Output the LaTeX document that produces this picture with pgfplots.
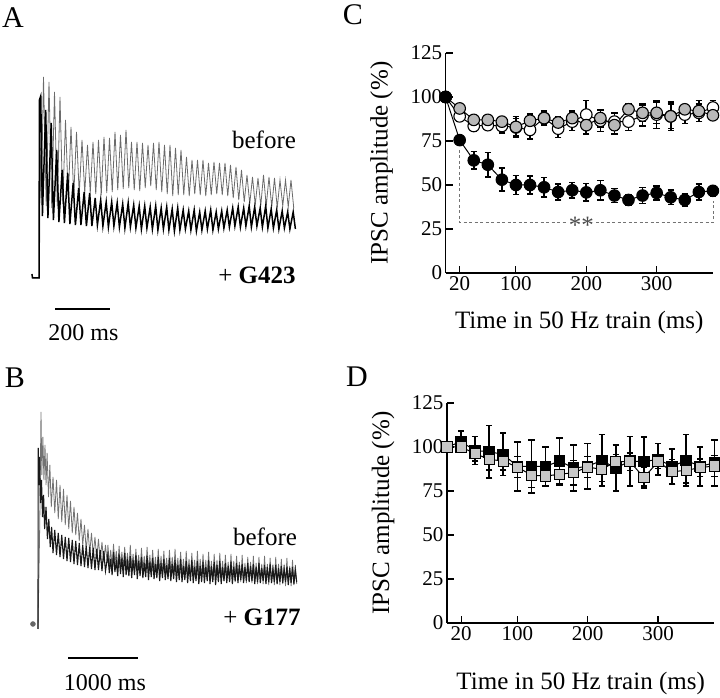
\documentclass[border=0pt]{standalone}
\usepackage{pgfplots}
\pgfplotsset{compat=1.18}
\usepackage{pgfplotstable}
\usepackage{fontspec}
\setmainfont{Liberation Serif}
\newcommand\ticksize{\fontsize{21}{24}\selectfont}
\newcommand\labsize{\fontsize{25}{30}\selectfont}
\newcommand\letsize{\fontsize{30}{34}\selectfont}

\pgfplotstableread{
x y e
0 100 0
20 75.5 2
40 64 5
60 61.5 7
80 53 6.5
100 50 5.5
120 50 5
140 48.7 5.5
160 46 4.5
180 47 4.5
200 45.8 5
220 47 5.5
240 44 4
260 41.5 3
280 44 4.5
300 45.5 4
320 43 4
340 41.5 3.5
360 46 4.5
380 46.7 3
}\Cblack
\pgfplotstableread{
x y e
0 100 0
20 89 3
40 83.5 3
60 84 3
80 83.5 4
100 82.7 5
120 81.3 5
140 88 4
160 82 5
180 86 5
200 90 8
220 86.5 6
240 86 5
260 86 5
280 89.5 6
300 90 8
320 89 8
340 90 5
360 91 5
380 94 4
}\Copen
\pgfplotstableread{
x y e
0 100 0
20 93.5 2
40 87 2
60 87 2
80 86 3
100 83 6
120 86.5 4
140 88 3
160 85.5 3
180 88 4
200 84 5
220 88 5
240 84 5
260 93 3
280 91 5
300 91 6
320 89 7
340 93 2
360 92 6
380 89.6 3
}\Cgray
\pgfplotstableread{
x y e
0 100 0
20 103 6
40 98 8
60 97.3 15
80 95.8 12
100 89 14
120 89 15
140 89 11
160 92 13
180 88 13
200 89 13
220 92.4 14.6
240 88 13
260 92 14
280 91.7 14
300 93 9
320 89 10
340 92.4 14.6
360 89 11
380 91 13
}\Dblack
\pgfplotstableread{
x y e
0 100 0
20 100 3
40 96.2 4
60 93 6
80 92 5
100 88.6 6
120 84 7
140 83.5 6
160 84.5 6
180 85.4 7
200 88.6 6
220 87.3 7
240 91.7 4
260 91.7 5
280 82.6 6
300 91.7 4
320 86 7
340 86.7 7
360 88.3 5
380 89.2 6
}\Dgray

\pgfplotsset{
 panel/.style={
  scale only axis, width=267.3pt, height=220pt,
  xmin=0, xmax=380, ymin=0, ymax=125,
  axis lines=left, axis line style={-, line width=1.1pt},
  tick align=inside, major tick length=7pt, tick style={line width=1.1pt, black},
  xtick={20,100,200,300}, ytick={0,25,50,75,100,125},
  tick label style={font=\ticksize},
  /pgf/number format/assume math mode=true,
  xlabel={Time in 50 Hz train (ms)}, ylabel={IPSC amplitude (\%)},
  label style={font=\labsize},
  ylabel style={at={([xshift=-64pt]axis description cs:0,0.5)}, anchor=center, rotate=0},
  clip=false,
 },
 ebar/.style={error bars/.cd, y dir=both, y explicit,
   error bar style={line width=1.6pt, black},
   error mark options={rotate=90, mark size=3.2pt, line width=1.6pt, black}},
 trace/.style={scale only axis, hide axis, clip=false},
}

\begin{document}
\begin{tikzpicture}
\useasboundingbox (0,0) rectangle (720pt,698pt);

% ---------- Panel A ----------
\begin{axis}[trace, at={(32.5pt,410pt)}, anchor=south west,
  width=269.5pt, height=220pt, xmin=-20, xmax=960, ymin=-10, ymax=210]
\addplot[black!58, line width=0.8pt] coordinates {
(-20,0) (5,0) (8,130) (12,80)
(20,201) (30,72) (40,196) (50,70) (60,186) (70,72) (80,181) (90,74)
(100,158) (110,80) (120,151) (130,82) (140,146) (150,84) (160,138) (170,85)
(180,133) (190,85) (200,136) (210,84) (220,138) (230,83) (240,141) (250,85)
(260,140) (270,86) (280,146) (290,88) (300,143) (310,89) (320,148) (330,90)
(340,136) (350,88) (360,136) (370,87) (380,135) (390,90) (400,133) (410,92)
(420,135) (430,88) (440,136) (450,86) (460,133) (470,84) (480,133) (490,82)
(500,130) (510,83) (520,128) (530,83) (540,121) (550,82) (560,118) (570,84)
(580,118) (590,83) (600,118) (610,82) (620,115) (630,83) (640,116) (650,84)
(660,115) (670,83) (680,115) (690,82) (700,113) (710,80) (720,111) (730,78)
(740,108) (750,76) (760,103) (770,74) (780,101) (790,73) (800,100) (810,72)
(820,103) (830,72) (840,101) (850,71) (860,100) (870,70) (880,98) (890,72)
(900,98) (910,71) (920,98) (930,70)
};
\addplot[black, line width=1.5pt] coordinates {
(-22,4) (-20,0) (4,0) (5,178) (10,182) (16,62)
(28,168) (36,60) (48,155) (56,58) (68,128) (76,56) (88,108) (96,55)
(108,105) (116,54) (128,95) (136,53) (148,90) (156,53) (168,86) (176,52)
(188,85) (196,52) (208,80) (216,53) (228,78) (236,52) (248,76) (256,51)
(268,76) (276,52) (288,75) (296,51) (308,74) (316,50) (328,75) (336,51)
(348,73) (356,50) (368,72) (376,49) (388,72) (396,50) (408,71) (416,49)
(428,72) (436,48) (448,70) (456,49) (468,71) (476,48) (488,69) (496,47)
(508,70) (516,48) (528,68) (536,49) (548,67) (556,48) (568,68) (576,47)
(588,66) (596,48) (608,67) (616,49) (628,68) (636,48) (648,66) (656,49)
(668,67) (676,50) (688,68) (696,51) (708,70) (716,52) (728,71) (736,51)
(748,70) (756,52) (768,72) (776,51) (788,71) (796,52) (808,70) (816,51)
(828,72) (836,50) (848,69) (856,50) (868,68) (876,49) (888,67) (896,50)
(908,66) (916,49) (928,66) (936,49)
};
\end{axis}

% ---------- Panel B ----------
\begin{axis}[trace, at={(31pt,63pt)}, anchor=south west,
  width=272.7pt, height=230pt, xmin=-100, xmax=3800, ymin=-10, ymax=220]
\addplot[black!55, line width=0.8pt] coordinates {
(0,-4) (25,100) (43,213) (55,150) (70,188) (85,145) (100,180) (115,140)
(130,172) (150,128) (170,160) (190,118) (215,148) (240,112) (265,145) (290,106)
(315,140) (340,103) (365,136) (390,100) (415,130) (440,96) (465,124) (490,92)
(515,118) (540,90) (565,112) (590,84) (615,106) (640,80) (665,100) (690,74)
(715,96) (740,72) (765,92) (790,70) (815,88) (840,66) (865,86) (890,64)
(915,83) (940,63) (965,80) (990,62)
(1000,80) (1020,60) (1040,75) (1060,58) (1080,81) (1100,61) (1120,74) (1140,57)
(1160,79) (1180,59) (1200,73) (1220,56) (1240,78) (1260,58) (1280,72) (1300,55)
(1320,80) (1340,57) (1360,71) (1380,54) (1400,76) (1420,56) (1440,70) (1460,53)
(1480,77) (1500,55) (1520,69) (1540,52) (1560,78) (1580,54) (1600,70) (1620,52)
(1640,75) (1660,53) (1680,68) (1700,51) (1720,76) (1740,52) (1760,69) (1780,50)
(1800,74) (1820,52) (1840,67) (1860,50) (1880,75) (1900,51) (1920,68) (1940,49)
(1960,76) (1980,50) (2000,67) (2020,48) (2040,73) (2060,50) (2080,66) (2100,48)
(2120,74) (2140,49) (2160,66) (2180,47) (2200,72) (2220,49) (2240,65) (2260,47)
(2280,74) (2300,48) (2320,66) (2340,46) (2360,71) (2380,48) (2400,65) (2420,46)
(2440,73) (2460,47) (2480,64) (2500,45) (2520,71) (2540,47) (2560,65) (2580,45)
(2600,72) (2620,46) (2640,64) (2660,44) (2680,70) (2700,46) (2720,63) (2740,44)
(2760,71) (2780,45) (2800,64) (2820,43) (2840,69) (2860,45) (2880,63) (2900,43)
(2920,70) (2940,44) (2960,62) (2980,42) (3000,68) (3020,44) (3040,63) (3060,42)
(3080,69) (3100,43) (3120,62) (3140,41) (3160,68) (3180,43) (3200,61) (3220,41)
(3240,69) (3260,42) (3280,61) (3300,40) (3320,67) (3340,42) (3360,60) (3380,40)
(3400,68) (3420,41) (3440,61) (3460,40) (3480,66) (3500,41) (3520,60) (3540,39)
(3560,67) (3580,41) (3600,59) (3620,39) (3640,65) (3660,40) (3680,60) (3700,41)
};
\addplot[black!90, line width=1.1pt] coordinates {
(0,-4) (3,177) (12,140) (22,168) (35,122) (50,145) (65,108) (80,130)
(95,96) (115,118) (135,86) (155,106) (175,78) (195,98) (215,72) (240,95)
(265,70) (290,92) (315,68) (340,90) (365,66) (390,88) (415,64) (440,87)
(465,63) (490,85) (515,61) (540,84) (565,60) (590,82) (615,59) (640,80)
(665,58) (690,79) (715,57) (740,78) (765,56) (790,77) (815,55) (840,76)
(865,55) (890,75) (915,54) (940,74) (965,54)
(1000,70) (1020,52) (1040,66) (1060,50) (1080,73) (1100,53) (1120,64) (1140,49)
(1160,71) (1180,51) (1200,67) (1220,48) (1240,72) (1260,50) (1280,63) (1300,49)
(1320,69) (1340,47) (1360,65) (1380,50) (1400,70) (1420,46) (1440,64) (1460,49)
(1480,68) (1500,47) (1520,62) (1540,48) (1560,69) (1580,45) (1600,63) (1620,48)
(1640,67) (1660,46) (1680,61) (1700,47) (1720,68) (1740,44) (1760,62) (1780,47)
(1800,66) (1820,45) (1840,60) (1860,46) (1880,67) (1900,44) (1920,61) (1940,46)
(1960,65) (1980,43) (2000,60) (2020,45) (2040,66) (2060,43) (2080,59) (2100,45)
(2120,64) (2140,42) (2160,60) (2180,44) (2200,65) (2220,42) (2240,58) (2260,44)
(2280,64) (2300,41) (2320,59) (2340,43) (2360,63) (2380,42) (2400,58) (2420,44)
(2440,65) (2460,41) (2480,59) (2500,43) (2520,63) (2540,40) (2560,60) (2580,43)
(2600,64) (2620,41) (2640,58) (2660,44) (2680,62) (2700,42) (2720,59) (2740,43)
(2760,63) (2780,41) (2800,58) (2820,44) (2840,62) (2860,42) (2880,60) (2900,45)
(2920,61) (2940,42) (2960,58) (2980,44) (3000,62) (3020,43) (3040,59) (3060,44)
(3080,61) (3100,41) (3120,58) (3140,43) (3160,62) (3180,42) (3200,57) (3220,44)
(3240,60) (3260,41) (3280,58) (3300,43) (3320,61) (3340,42) (3360,56) (3380,43)
(3400,60) (3420,41) (3440,57) (3460,43) (3480,59) (3500,42) (3520,56) (3540,43)
(3560,58) (3580,40) (3600,57) (3620,42) (3640,58) (3660,41) (3680,55) (3700,43)
};
\addplot[only marks, mark=*, mark size=2.5pt, black!60] coordinates {(-72,1)};
\end{axis}

% ---------- Panel C ----------
\begin{axis}[panel, at={(445.6pt,425pt)}, anchor=south west,
  xlabel style={at={([yshift=-49pt]axis description cs:0.5,0)}, anchor=center}]
\addplot[black, line width=1pt, mark=*, mark size=5.8pt,
  mark options={fill=white, draw=black, line width=1.1pt}, ebar]
  table[x=x, y=y, y error=e] {\Copen};
\addplot[black, line width=1pt, mark=*, mark size=5.8pt,
  mark options={fill=black!28, draw=black, line width=1.1pt}, ebar]
  table[x=x, y=y, y error=e] {\Cgray};
\addplot[black, line width=1pt, mark=*, mark size=5.8pt,
  mark options={fill=black, draw=black}, ebar]
  table[x=x, y=y, y error=e] {\Cblack};
\draw[black!55, line width=0.7pt, dash pattern=on 3pt off 2.5pt]
  (axis cs:20,70) -- (axis cs:20,28.5) -- (axis cs:380,28.5) -- (axis cs:380,41);
\node[fill=white, text=black!70, font=\labsize, inner sep=2pt] at (axis cs:193,27) {**};
\end{axis}

% ---------- Panel D ----------
\begin{axis}[panel, at={(447pt,75pt)}, anchor=south west,
  xlabel style={at={([yshift=-60pt]axis description cs:0.5,0)}, anchor=center}]
\addplot[black, line width=1pt, mark=square*, mark size=5.3pt,
  mark options={fill=black, draw=black}, ebar]
  table[x=x, y=y, y error=e] {\Dblack};
\addplot[black, line width=1pt, mark=square*, mark size=5.1pt,
  mark options={fill=black!22, draw=black, line width=1.1pt}, ebar]
  table[x=x, y=y, y error=e] {\Dgray};
\end{axis}

% ---------- annotations ----------
\node[font=\letsize] at (13pt,680pt) {A};
\node[font=\letsize] at (15pt,320pt) {B};
\node[font=\letsize] at (353pt,683pt) {C};
\node[font=\letsize] at (357pt,321pt) {D};

\node[font=\labsize] at (264pt,558pt) {before};
\node[font=\labsize] at (257pt,423pt) {+ \textbf{G423}};
\draw[line width=1.2pt] (55pt,389pt) -- (110pt,389pt);
\node[font=\fontsize{24}{28}\selectfont] at (83.5pt,365pt) {200 ms};

\node[font=\labsize] at (265pt,161pt) {before};
\node[font=\labsize] at (262pt,81pt) {+ \textbf{G177}};
\draw[line width=1.2pt] (68pt,40pt) -- (138pt,40pt);
\node[font=\fontsize{24}{28}\selectfont] at (105pt,15pt) {1000 ms};
\end{tikzpicture}
\end{document}
